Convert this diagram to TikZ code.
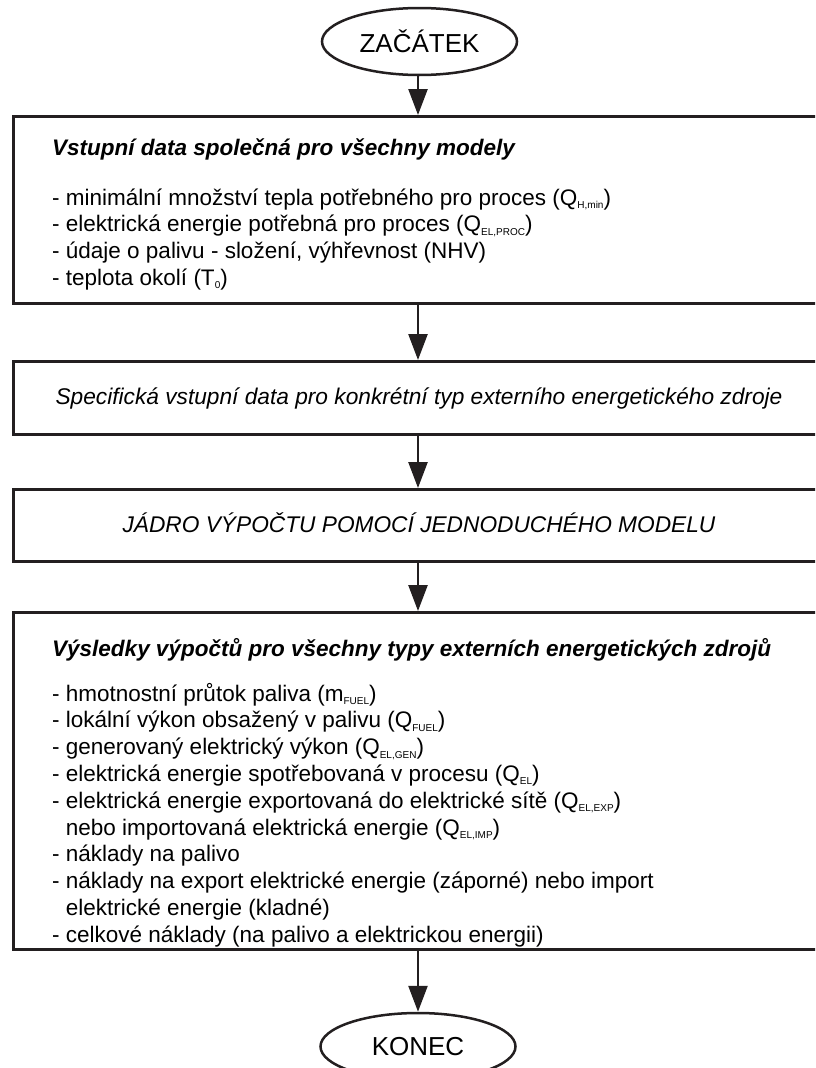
\documentclass[tikz,border=0pt]{standalone}
\usepackage{fontspec}
\setmainfont{Liberation Sans}
\usetikzlibrary{arrows.meta,shapes.geometric}
\definecolor{ink}{HTML}{231F20}
\newcommand\qsub[1]{\raisebox{-3.5pt}[0pt][0pt]{\fontsize{10}{10}\selectfont #1}}
\begin{document}
\begin{tikzpicture}[x=1pt,y=-1pt,
  box/.style={draw=ink,line width=3pt,anchor=north west,inner sep=0pt,minimum width=811pt},
  term/.style={draw=ink,line width=2.5pt,ellipse,inner sep=0pt,minimum width=195pt,minimum height=67pt,font=\fontsize{26}{26}\selectfont},
  flow/.style={draw=ink,line width=2.5pt,-{Triangle[length=26pt,width=19pt]}},
  txt/.style={anchor=base west,inner sep=0pt,font=\fontsize{22.5}{26}\selectfont},
  head/.style={anchor=base west,inner sep=0pt,font=\fontsize{22.5}{26}\selectfont\bfseries\itshape},
  ctxt/.style={anchor=base,inner sep=0pt,font=\fontsize{22.7}{26}\selectfont\itshape},
]
\useasboundingbox (0,0) rectangle (815,1068);
\clip (0,0) rectangle (815,1068);
% terminals
\node[term] (start) at (419.5,41.5) {ZAČÁTEK};
\node[term] (end) at (418,1046.5) {KONEC};
% boxes
\node[box,minimum height=187pt] (b1) at (12,115) {};
\node[box,minimum height=73pt] (b2) at (12,360) {};
\node[box,minimum height=72pt] (b3) at (12,488) {};
\node[box,minimum height=337pt] (b4) at (12,611) {};
% texts
\node[head] (t1) at (52,155) {Vstupní data společná pro všechny modely};
\foreach \s [count=\i from 0] in {
  {- minimální množství tepla potřebného pro proces (Q\qsub{H,min})},
  {- elektrická energie potřebná pro proces (Q\qsub{EL,PROC})},
  {- údaje o palivu - složení, výhřevnost (NHV)},
  {- teplota okolí (T\qsub{0})}}
  \node[txt] (la\i) at (52,{205+26.8*\i}) {\s};
\node[ctxt] (t2) at (b2.center |- 0,404) {Specifická vstupní data pro konkrétní typ externího energetického zdroje};
\node[ctxt] (t3) at (b3.center |- 0,532) {JÁDRO VÝPOČTU POMOCÍ JEDNODUCHÉHO MODELU};
\node[head] (t4) at (52,656) {Výsledky výpočtů pro všechny typy externích energetických zdrojů};
\foreach \s [count=\i from 0] in {
  {- hmotnostní průtok paliva (m\qsub{FUEL})},
  {- lokální výkon obsažený v palivu (Q\qsub{FUEL})},
  {- generovaný elektrický výkon (Q\qsub{EL,GEN})},
  {- elektrická energie spotřebovaná v procesu (Q\qsub{EL})},
  {- elektrická energie exportovaná do elektrické sítě (Q\qsub{EL,EXP})},
  {\hphantom{- }nebo importovaná elektrická energie (Q\qsub{EL,IMP})},
  {- náklady na palivo},
  {- náklady na export elektrické energie (záporné) nebo import},
  {\hphantom{- }elektrické energie (kladné)},
  {- celkové náklady (na palivo a elektrickou energii)}}
  \node[txt] (lb\i) at (52,{701+26.8*\i}) {\s};
% connectors
\coordinate (ax) at (418,0);
\draw[flow] (start.south -| ax) -- (b1.north -| ax);
\draw[flow] (b1.south -| ax) -- (b2.north -| ax);
\draw[flow] (b2.south -| ax) -- (b3.north -| ax);
\draw[flow] (b3.south -| ax) -- (b4.north -| ax);
\draw[flow] (b4.south -| ax) -- (end.north);
\end{tikzpicture}
\end{document}
